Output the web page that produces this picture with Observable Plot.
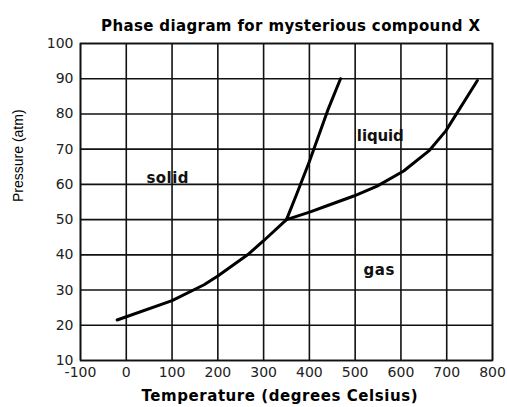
<!DOCTYPE html>
<html>
<head>
<meta charset="utf-8">
<script src="https://cdn.jsdelivr.net/npm/d3@7"></script>
<script src="https://cdn.jsdelivr.net/npm/@observablehq/plot@0.6"></script>
<style>
html, body { margin: 0; padding: 0; background: #fff; }
</style>
</head>
<body>
<div id="chart"></div>
<script>
const title = "Phase diagram for mysterious compound X";
const xLabel = "Temperature (degrees Celsius)";
const yLabel = "Pressure (atm)";
const xTicks = [-100, 0, 100, 200, 300, 400, 500, 600, 700, 800];
const yTicks = [10, 20, 30, 40, 50, 60, 70, 80, 90, 100];

// sublimation curve (solid-gas)
const sublimationT = [-20, 100, 170, 200, 265, 300, 350];
const sublimationP = [21.5, 27, 31.5, 34, 40, 44, 50];
// melting curve (solid-liquid)
const meltingT = [350, 373, 400, 440, 468];
const meltingP = [50, 57.5, 66.5, 81, 90];
// vaporization curve (liquid-gas)
const vaporT = [350, 402, 440, 497, 548, 606, 661, 698, 767];
const vaporP = [50, 52.2, 54, 56.7, 59.5, 63.8, 69.5, 75.2, 89.5];

const regionNames = ["solid", "liquid", "gas"];
const regionT = [90, 555, 552];
const regionP = [61.7, 73.7, 35.5];

const toPts = (xs, ys, name) => xs.map((x, i) => ({x, y: ys[i], name}));
const curves = [
  ...toPts(sublimationT, sublimationP, "sub"),
  ...toPts(meltingT, meltingP, "melt"),
  ...toPts(vaporT, vaporP, "vap")
];
const regions = regionNames.map((n, i) => ({name: n, x: regionT[i], y: regionP[i]}));

const wide = "'DejaVu Sans', Verdana, sans-serif";

const chart = Plot.plot({
  width: 507,
  height: 407,
  marginLeft: 80,
  marginRight: 15,
  marginTop: 43,
  marginBottom: 47,
  style: {fontFamily: wide, fontSize: "14px", color: "#222", background: "#fff"},
  x: {domain: [-100, 800], ticks: xTicks, tickSize: 0, tickPadding: 7, label: null, tickFormat: d => String(d)},
  y: {domain: [10, 100], ticks: yTicks, tickSize: 0, tickPadding: 7, label: null, tickFormat: d => String(d)},
  marks: [
    Plot.ruleX(xTicks, {stroke: "#111", strokeWidth: 1.6}),
    Plot.ruleY(yTicks, {stroke: "#111", strokeWidth: 1.6}),
    Plot.frame({stroke: "#111", strokeWidth: 1.6}),
    Plot.line(curves, {x: "x", y: "y", z: "name", stroke: "#000", strokeWidth: 3, strokeLinejoin: "round", strokeLinecap: "round"}),
    Plot.text(regions, {x: "x", y: "y", text: "name", fontWeight: "bold", fontSize: 15, fill: "#111", fontFamily: wide}),
    Plot.text([title], {frameAnchor: "top", dx: 4, dy: -23, fontWeight: "bold", fontSize: 15, fill: "#000", fontFamily: wide}),
    Plot.text([xLabel], {frameAnchor: "bottom", dx: -7, dy: 40, fontWeight: "bold", fontSize: 15, fill: "#000", fontFamily: wide}),
    Plot.text([yLabel], {frameAnchor: "left", dx: -62, rotate: -90, fontSize: 14, fill: "#000", fontFamily: "'Liberation Sans', Arial, sans-serif"})
  ]
});
// stretch the wide bold texts to the widths seen in the reference
const textWidths = new Map([[title, 379], [xLabel, 276], ["solid", 42], ["liquid", 47], ["gas", 31]]);
d3.select(chart).selectAll("text")
  .filter(function() { return textWidths.has(this.textContent); })
  .attr("textLength", function() { return textWidths.get(this.textContent); })
  .attr("lengthAdjust", "spacing");
document.getElementById("chart").append(chart);
</script>
</body>
</html>
